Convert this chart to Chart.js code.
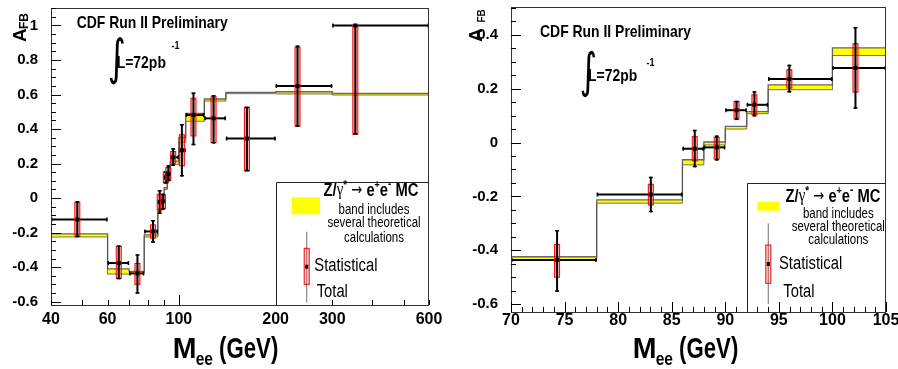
<!DOCTYPE html>
<html>
<head>
<meta charset="utf-8">
<script src="https://cdn.jsdelivr.net/npm/chart.js@4.4.1/dist/chart.umd.min.js"></script>
<style>
  html, body { margin: 0; padding: 0; background: #fff; }
  #wrap { position: relative; width: 898px; height: 369px; overflow: hidden; }
  canvas { position: absolute; top: 0; }
</style>
</head>
<body>
<div id="wrap">
  <canvas id="full_chart" width="450" height="369" style="left:0;width:450px;height:369px"></canvas>
  <canvas id="zoom_chart" width="448" height="369" style="left:450px;width:448px;height:369px"></canvas>
</div>
<script>
// -------------------------------
// A_FB vs M_ee data (CDF Run II, 72 pb^-1)
// -------------------------------
const binEdges = [40, 60, 70, 78, 86, 88, 90, 92, 94, 100, 105, 120, 140, 200, 300, 600];

// MC band per bin
const mcLow  = [-0.225, -0.440, -0.436, -0.225, -0.083, -0.009, 0.050, 0.107, 0.196, 0.323, 0.445, 0.562, 0.605, 0.603, 0.597];
const mcHigh = [-0.207, -0.410, -0.424, -0.213, -0.064, 0.002, 0.060, 0.115, 0.214, 0.351, 0.490, 0.574, 0.612, 0.616, 0.607];

// measured points
const dataMass  = [48.3, 65.0, 74.3, 83.05, 87.15, 89.2, 91.05, 92.72, 95.98, 102.15, 111.0, 128.2, 162.8, 233.9, 354.0];
const dataAfb   = [-0.124, -0.376, -0.436, -0.193, -0.023, -0.018, 0.120, 0.140, 0.236, 0.277, 0.481, 0.462, 0.345, 0.649, 1.000];
const statLow   = [-0.221, -0.465, -0.500, -0.232, -0.068, -0.061, 0.088, 0.103, 0.202, 0.187, 0.360, 0.322, 0.157, 0.417, 0.369];
const statHigh  = [-0.023, -0.279, -0.378, -0.155, 0.022, 0.019, 0.152, 0.177, 0.270, 0.367, 0.578, 0.587, 0.526, 0.874, 1.000];
const totalLow  = [-0.226, -0.470, -0.554, -0.259, -0.092, -0.067, 0.084, 0.097, 0.186, 0.125, 0.306, 0.316, 0.155, 0.413, 0.369];
const totalHigh = [-0.018, -0.274, -0.325, -0.127, 0.047, 0.026, 0.155, 0.190, 0.289, 0.429, 0.612, 0.597, 0.529, 0.884, 1.000];

// tick labels
const fullMassTicks = [40, 60, 100, 200, 300, 600];
const fullMassMinor = [40, 50, 60, 70, 80, 90, 100, 200, 300, 400, 500, 600];
const fullAfbTicks = [-0.6, -0.4, -0.2, 0, 0.2, 0.4, 0.6, 0.8, 1];
const zoomMassTicks = [70, 75, 80, 85, 90, 95, 100, 105];
const zoomAfbTicks = [-0.6, -0.4, -0.2, 0, 0.2, 0.4];

const SANS = '"Liberation Sans", Arial, sans-serif';
const SQUEEZE = 0.82; // narrow Helvetica look

// -------------------------------
// Panel layouts (page coordinates)
// -------------------------------
const fullPanel = {
  id: "full_chart", offsetX: 0,
  xType: "logarithmic", xMin: 40, xMax: 600, yMin: -0.619, yMax: 1.101,
  xTicks: fullMassTicks, yTicks: fullAfbTicks,
  xMinor: fullMassMinor, xMajor: [100], xStep: 0,
  pad: { right: 21, top: 8 }, yWidth: 51, xHeight: 64, xTickPad: -1, yTickPad: 5,
  title: { x: 76.7, y: 23.3 },
  lumi: { ix: 106, iTop: 37, iBot: 85, x: 116.7, y: 63.3, supX: 171.5, supY: 46 },
  axis: { mx: 172.7, mr: 278.3, my: 358, aX: 25.5, aY: 42, fbX: 28, fbY: 29, fbSize: 12 },
  legend: {
    x: 275.7, y: 181.7,
    band: { x: 291.7, y: 197.3, w: 28.3, h: 17 },
    z: { cx: 371, cy: 190.7 }, textCx: 374, lines: [210, 223.3, 237.7],
    err: { x: 306.7, top: 231.7, bot: 302.7, sTop: 248.3, sBot: 284.3, dot: 266.7 },
    stat: { x: 314.3, y: 266 }, total: { x: 316.7, y: 291.7 },
  },
};

const zoomPanel = {
  id: "zoom_chart", offsetX: 450,
  xType: "linear", xMin: 70, xMax: 105, yMin: -0.629, yMax: 0.503,
  xTicks: zoomMassTicks, yTicks: zoomAfbTicks,
  xMinor: null, xMajor: null, xStep: 1,
  pad: { right: 12, top: 7 }, yWidth: 61, xHeight: 57, xTickPad: -7, yTickPad: 5,
  title: { x: 540, y: 32.3 },
  lumi: { ix: 578, iTop: 50, iBot: 97, x: 588, y: 76.7, supX: 646.5, supY: 63 },
  axis: { mx: 632.7, mr: 738.3, my: 357.7, aX: 482, aY: 42, fbX: 485, fbY: 22.5, fbSize: 10 },
  legend: {
    x: 746.7, y: 182.7,
    band: { x: 757.3, y: 201.7, w: 22, h: 9 },
    z: { cx: 833, cy: 196.7 }, textCx: 838.3, lines: [214.3, 227.3, 240],
    err: { x: 768.3, top: 223.3, bot: 304, sTop: 245, sBot: 283.3, dot: 264 },
    stat: { x: 779, y: 264 }, total: { x: 783.3, y: 291.7 },
  },
};

// -------------------------------
// Helpers
// -------------------------------
function stepPoints(values) {
  // points at low edges + closing point at the last upper edge
  return binEdges.map((e, i) => ({ x: e, y: values[Math.min(i, values.length - 1)] }));
}

function fmtTick(v) {
  return String(Math.round(v * 10) / 10);
}

// horizontally squeezed text
function text(ctx, s, x, y, font, align = "left", base = "middle", sx = SQUEEZE) {
  ctx.save();
  ctx.font = font;
  ctx.textAlign = align;
  ctx.textBaseline = base;
  ctx.translate(x, y);
  ctx.scale(sx, 1);
  ctx.fillText(s, 0, 0);
  ctx.restore();
}

// draws a run of text pieces, each {t, f, dy}, centred on cx
function richCentered(ctx, parts, cx, cy) {
  let w = 0;
  parts.forEach((p) => { ctx.font = p.f; p.w = ctx.measureText(p.t).width * SQUEEZE; w += p.w; });
  let x = cx - w / 2;
  parts.forEach((p) => {
    text(ctx, p.t, x, cy + (p.dy || 0), p.f);
    x += p.w;
  });
}

function integralSign(ctx, x, top, bot) {
  ctx.save();
  ctx.font = "60px DejaVu Sans";
  ctx.textAlign = "left";
  ctx.textBaseline = "alphabetic";
  const m = ctx.measureText("\u222B");
  const h = m.actualBoundingBoxAscent + m.actualBoundingBoxDescent;
  const s = (bot - top) / h;
  ctx.translate(x, top + m.actualBoundingBoxAscent * s);
  ctx.scale(s * 0.7, s);
  ctx.fillText("\u222B", -m.actualBoundingBoxLeft, 0);
  ctx.restore();
}

// -------------------------------
// Decorations plugin: frame, inner ticks, error bars, labels, legend
// -------------------------------
const afbDecor = {
  id: "afbDecor",
  afterDatasetsDraw(chart) {
    const { ctx, chartArea: a, scales: { x, y } } = chart;

    ctx.save();
    ctx.beginPath();
    ctx.rect(a.left, a.top, a.right - a.left, a.bottom - a.top);
    ctx.clip();

    dataMass.forEach((m, i) => {
      const xl = x.getPixelForValue(binEdges[i]);
      const xr = x.getPixelForValue(binEdges[i + 1]);
      const xp = x.getPixelForValue(m);
      const yp = y.getPixelForValue(dataAfb[i]);

      // bin width bar
      ctx.strokeStyle = "#000";
      ctx.lineWidth = 2;
      ctx.beginPath();
      ctx.moveTo(xl, yp); ctx.lineTo(xr, yp);
      ctx.stroke();
      ctx.lineWidth = 1.5;
      ctx.beginPath();
      ctx.moveTo(xl + 0.75, yp - 2); ctx.lineTo(xl + 0.75, yp + 2);
      ctx.moveTo(xr - 0.75, yp - 2); ctx.lineTo(xr - 0.75, yp + 2);
      ctx.stroke();

      // statistical box
      const sTop = y.getPixelForValue(statHigh[i]);
      const sBot = y.getPixelForValue(statLow[i]);
      ctx.fillStyle = "rgba(255, 70, 70, 0.4)";
      ctx.fillRect(xp - 2.5, sTop, 5, sBot - sTop);
      ctx.strokeStyle = "#ff0000";
      ctx.lineWidth = 1;
      ctx.strokeRect(xp - 2.5, sTop, 5, sBot - sTop);

      // total error
      const tTop = y.getPixelForValue(totalHigh[i]);
      const tBot = y.getPixelForValue(totalLow[i]);
      ctx.strokeStyle = "#000";
      ctx.lineWidth = 2;
      ctx.beginPath();
      ctx.moveTo(xp, tTop); ctx.lineTo(xp, tBot);
      ctx.stroke();
      ctx.lineWidth = 1.5;
      ctx.beginPath();
      ctx.moveTo(xp - 2, tTop + 0.75); ctx.lineTo(xp + 2, tTop + 0.75);
      ctx.moveTo(xp - 2, tBot - 0.75); ctx.lineTo(xp + 2, tBot - 0.75);
      ctx.stroke();

      // marker
      ctx.fillStyle = "#000";
      ctx.fillRect(xp - 2, yp - 2, 4, 4);
    });
    ctx.restore();
  },

  afterDraw(chart) {
    const cfg = chart.options.plugins.afbDecor;
    const { ctx, chartArea: a, scales: { x, y } } = chart;
    const ox = cfg.offsetX;

    ctx.save();

    // frame
    ctx.strokeStyle = "#333";
    ctx.lineWidth = 1;
    ctx.strokeRect(Math.round(a.left) + 0.5, Math.round(a.top) + 0.5,
      Math.round(a.right - a.left) - 1, Math.round(a.bottom - a.top));

    // inner ticks, y
    ctx.strokeStyle = "#000";
    ctx.beginPath();
    for (let v = -0.6; v <= y.max + 1e-9; v += 0.05) {
      const major = Math.abs(v / 0.2 - Math.round(v / 0.2)) < 1e-6;
      const py = Math.round(y.getPixelForValue(v)) + 0.5;
      ctx.moveTo(a.left, py);
      ctx.lineTo(a.left + (major ? 10 : 5), py);
    }
    // inner ticks, x
    const xs = cfg.xMinor ? cfg.xMinor : [];
    if (!cfg.xMinor) for (let v = x.min; v <= x.max; v += cfg.xStep) xs.push(v);
    xs.forEach((v) => {
      const major = cfg.xMajor ? cfg.xMajor.includes(v) : v % 5 === 0;
      const px = Math.round(x.getPixelForValue(v)) + 0.5;
      ctx.moveTo(px, a.bottom);
      ctx.lineTo(px, a.bottom - (major ? 10 : 5));
    });
    ctx.stroke();

    ctx.fillStyle = "#000";

    // header texts
    text(ctx, "CDF Run II Preliminary", cfg.title.x - ox, cfg.title.y, `bold 17px ${SANS}`);
    integralSign(ctx, cfg.lumi.ix - ox, cfg.lumi.iTop, cfg.lumi.iBot);
    text(ctx, "L=72pb", cfg.lumi.x - ox, cfg.lumi.y, `bold 17px ${SANS}`);
    text(ctx, "-1", cfg.lumi.supX - ox, cfg.lumi.supY, `bold 11px ${SANS}`);

    // x axis title: M_ee (GeV)
    const mx = cfg.axis.mx - ox;
    text(ctx, "M", mx, cfg.axis.my, `bold 30px ${SANS}`, "left", "alphabetic", 0.95);
    text(ctx, "ee", mx + 23, cfg.axis.my + 7, `bold 19px ${SANS}`, "left", "alphabetic");
    text(ctx, "(GeV)", cfg.axis.mr - ox, cfg.axis.my, `bold 30px ${SANS}`, "right", "alphabetic", 0.74);

    // y axis title: A_FB, rotated
    ctx.save();
    ctx.translate(cfg.axis.aX - ox, cfg.axis.aY);
    ctx.rotate(-Math.PI / 2);
    text(ctx, "A", 0, 0, `bold 19px ${SANS}`, "left", "alphabetic", 1);
    ctx.restore();
    ctx.save();
    ctx.translate(cfg.axis.fbX - ox, cfg.axis.fbY);
    ctx.rotate(-Math.PI / 2);
    text(ctx, "FB", 0, 0, `bold ${cfg.axis.fbSize}px ${SANS}`, "left", "alphabetic", 1);
    ctx.restore();

    // legend
    const L = cfg.legend;
    ctx.strokeStyle = "#222";
    ctx.lineWidth = 1;
    ctx.beginPath();
    ctx.moveTo(Math.round(L.x - ox) + 0.5, a.bottom);
    ctx.lineTo(Math.round(L.x - ox) + 0.5, Math.round(L.y) + 0.5);
    ctx.lineTo(a.right, Math.round(L.y) + 0.5);
    ctx.stroke();

    ctx.fillStyle = "#ffff00";
    ctx.fillRect(L.band.x - ox, L.band.y, L.band.w, L.band.h);

    ctx.fillStyle = "#000";
    richCentered(ctx, [
      { t: "Z/", f: `bold 18px ${SANS}` },
      { t: "\u03B3", f: "18px Liberation Serif" },
      { t: "*", f: `bold 12px ${SANS}`, dy: -5 },
      { t: " \u2192 ", f: "16px DejaVu Sans" },
      { t: "e", f: `bold 18px ${SANS}` },
      { t: "+", f: `bold 11px ${SANS}`, dy: -6 },
      { t: "e", f: `bold 18px ${SANS}` },
      { t: "-", f: `bold 12px ${SANS}`, dy: -6 },
      { t: " MC", f: `bold 18px ${SANS}` },
    ], L.z.cx - ox, L.z.cy);

    ["band includes", "several theoretical", "calculations"].forEach((s, k) =>
      text(ctx, s, L.textCx - ox, L.lines[k], `14px ${SANS}`, "center"));

    // legend error-bar sample
    ctx.strokeStyle = "#888";
    ctx.lineWidth = 1.2;
    ctx.beginPath();
    ctx.moveTo(L.err.x - ox, L.err.top);
    ctx.lineTo(L.err.x - ox, L.err.bot);
    ctx.stroke();
    ctx.fillStyle = "rgba(255, 70, 70, 0.25)";
    ctx.fillRect(L.err.x - ox - 2.5, L.err.sTop, 5, L.err.sBot - L.err.sTop);
    ctx.strokeStyle = "#ff0000";
    ctx.lineWidth = 1;
    ctx.strokeRect(L.err.x - ox - 2.5, L.err.sTop, 5, L.err.sBot - L.err.sTop);
    ctx.fillStyle = "#000";
    ctx.fillRect(L.err.x - ox - 1.5, L.err.dot - 2, 3, 4);

    text(ctx, "Statistical", L.stat.x - ox, L.stat.y, `18px ${SANS}`);
    text(ctx, "Total", L.total.x - ox, L.total.y, `18px ${SANS}`);

    ctx.restore();
  },
};

// -------------------------------
// Build one panel
// -------------------------------
function makePanel(cfg) {
  const canvas = document.getElementById(cfg.id);
  return new Chart(canvas, {
    type: "line",
    data: {
      datasets: [
        {
          label: "MC low",
          data: stepPoints(mcLow),
          stepped: "before",
          borderColor: "rgba(80, 80, 80, 0.8)",
          borderWidth: 1,
          pointRadius: 0,
          fill: false,
        },
        {
          label: "MC high",
          data: stepPoints(mcHigh),
          stepped: "before",
          borderColor: "#666",
          borderWidth: 1.3,
          pointRadius: 0,
          fill: "-1",
          backgroundColor: "#ffff00",
        },
      ],
    },
    options: {
      responsive: false,
      animation: false,
      layout: { padding: { left: 0, right: cfg.pad.right, top: cfg.pad.top, bottom: 0 } },
      plugins: {
        legend: { display: false },
        tooltip: { enabled: false },
        afbDecor: cfg,
      },
      scales: {
        x: {
          type: cfg.xType,
          min: cfg.xMin,
          max: cfg.xMax,
          grid: { display: false },
          border: { display: false },
          ticks: {
            color: "#000",
            autoSkip: false,
            maxRotation: 0,
            padding: cfg.xTickPad,
            font: { family: SANS, size: 16, weight: "bold", lineHeight: 1 },
            callback: (v) => String(v),
          },
          afterBuildTicks: (s) => { s.ticks = cfg.xTicks.map((v) => ({ value: v })); },
          afterFit: (s) => { s.height = cfg.xHeight; s.paddingLeft = 0; s.paddingRight = 0; },
        },
        y: {
          min: cfg.yMin,
          max: cfg.yMax,
          grid: { display: false },
          border: { display: false },
          ticks: {
            color: "#000",
            autoSkip: false,
            padding: cfg.yTickPad,
            font: { family: SANS, size: 15, weight: "bold", lineHeight: 1 },
            callback: (v) => fmtTick(v),
          },
          afterBuildTicks: (s) => { s.ticks = cfg.yTicks.map((v) => ({ value: v })); },
          afterFit: (s) => { s.width = cfg.yWidth; s.paddingTop = 0; s.paddingBottom = 0; },
        },
      },
    },
    plugins: [afbDecor],
  });
}

document.addEventListener("DOMContentLoaded", () => {
  makePanel(fullPanel);
  makePanel(zoomPanel);
});
</script>
</body>
</html>
